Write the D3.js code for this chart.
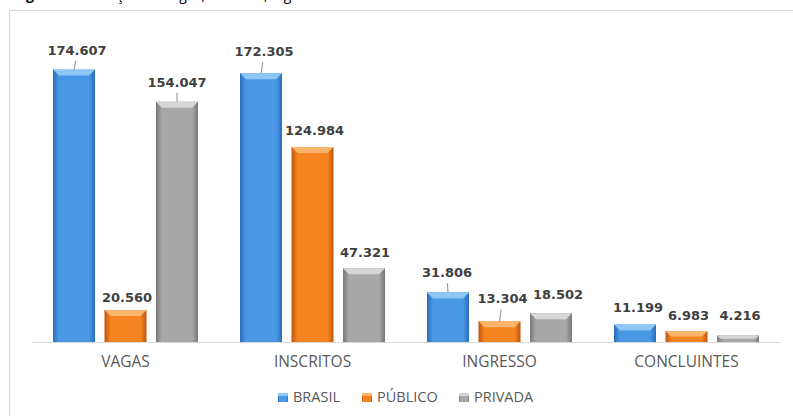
<!DOCTYPE html>
<html>
<head>
<meta charset="utf-8">
<script src="https://cdn.jsdelivr.net/npm/d3@7"></script>
<style>
  html, body { margin: 0; padding: 0; background: #fff; }
  svg { display: block; }
</style>
</head>
<body>
<div id="chart"></div>
<script>
  "use strict";

  // chart data
  var categories = ["VAGAS", "INSCRITOS", "INGRESSO", "CONCLUINTES"];
  var seriesNames = ["BRASIL", "PÚBLICO", "PRIVADA"];
  var brasil = [174607, 172305, 31806, 11199];
  var publico = [20560, 124984, 13304, 6983];
  var privada = [154047, 47321, 18502, 4216];
  var seriesValues = [brasil, publico, privada];

  // label nudges as placed in the original: [dx, gap above bar, leader line]
  var labelNudge = [
    [[3, 15, true], [1.5, 8, false], [0, 15, true]],
    [[3, 17, true], [2, 12, false], [1, 11, false]],
    [[-1, 15, true], [3, 18, true], [7, 14, false]],
    [[3, 13, false], [2, 11, false], [2, 15, false]]
  ];

  var width = 793, height = 416;
  var baseY = 342;

  var fmt = d3.formatLocale({ decimal: ",", thousands: ".", grouping: [3], currency: ["", ""] }).format(",d");

  var palette = {
    "BRASIL": { edge: "#2a6cbc", mid: "#4a98e4", top: "#8ec6f6" },
    "PÚBLICO": { edge: "#c0560e", mid: "#f3841f", top: "#fbb56c" },
    "PRIVADA": { edge: "#777777", mid: "#a8a8a8", top: "#d6d6d6" }
  };

  var svg = d3.select("#chart").append("svg")
    .attr("width", width)
    .attr("height", height);

  // gradients for the bevelled bars
  var defs = svg.append("defs");
  seriesNames.forEach(function (s, i) {
    var c = palette[s];
    var g = defs.append("linearGradient").attr("id", "grad" + i)
      .attr("x1", "0").attr("x2", "1").attr("y1", "0").attr("y2", "0");
    g.append("stop").attr("offset", "0%").attr("stop-color", c.edge);
    g.append("stop").attr("offset", "14%").attr("stop-color", c.mid);
    g.append("stop").attr("offset", "86%").attr("stop-color", c.mid);
    g.append("stop").attr("offset", "100%").attr("stop-color", c.edge);
  });

  // caption, cut off by the top of the picture as in the original
  svg.append("text")
    .attr("x", 14)
    .attr("y", 0)
    .style("font-family", "'Open Sans', sans-serif")
    .style("font-size", "14px")
    .attr("fill", "#000")
    .call(function (t) {
      t.append("tspan").style("font-weight", "bold").text("Figura 1 -");
      t.append("tspan").text(" Evolução de Vagas, Inscritos, Ingressos e Concluintes");
    });

  // frame
  svg.append("rect")
    .attr("x", 9.5).attr("y", 10.5)
    .attr("width", 800).attr("height", 420)
    .attr("fill", "#fff")
    .attr("stroke", "#d9d9d9")
    .attr("stroke-width", 1.2);

  var x = d3.scaleBand().domain(categories).range([32, 780]);
  var xs = d3.scaleBand().domain(seriesNames).range([21, 166]).paddingInner(0.184);
  var y = d3.scaleLinear().domain([0, 200000]).range([baseY, 30]);

  // baseline
  svg.append("line")
    .attr("x1", x.range()[0]).attr("x2", x.range()[1])
    .attr("y1", baseY + 0.5).attr("y2", baseY + 0.5)
    .attr("stroke", "#d9d9d9").attr("stroke-width", 1.2);

  var rows = [];
  categories.forEach(function (cat, ci) {
    seriesNames.forEach(function (s, si) {
      rows.push({ cat: cat, ci: ci, s: s, si: si, v: seriesValues[si][ci], nudge: labelNudge[ci][si] });
    });
  });

  var bars = svg.append("g").selectAll("g.bar")
    .data(rows)
    .enter().append("g").attr("class", "bar");

  bars.append("rect")
    .attr("x", function (d) { return x(d.cat) + xs(d.s); })
    .attr("y", function (d) { return y(d.v); })
    .attr("width", xs.bandwidth())
    .attr("height", function (d) { return baseY - y(d.v); })
    .attr("fill", function (d) { return "url(#grad" + d.si + ")"; });

  // bevel highlight on top
  bars.append("polygon")
    .attr("points", function (d) {
      var x0 = x(d.cat) + xs(d.s), x1 = x0 + xs.bandwidth(), t = y(d.v);
      var h = Math.min(6, (baseY - t) / 2), inset = Math.min(6, h);
      return [[x0, t], [x1, t], [x1 - inset, t + h], [x0 + inset, t + h]].join(" ");
    })
    .attr("fill", function (d) { return palette[d.s].top; });

  // leader lines
  bars.filter(function (d) { return d.nudge[2]; })
    .append("line")
    .attr("x1", function (d) { return x(d.cat) + xs(d.s) + xs.bandwidth() / 2; })
    .attr("y1", function (d) { return y(d.v); })
    .attr("x2", function (d) { return x(d.cat) + xs(d.s) + xs.bandwidth() / 2 + d.nudge[0] * 0.6; })
    .attr("y2", function (d) { return y(d.v) - (d.nudge[1] - 6); })
    .attr("stroke", "#8c8c8c").attr("stroke-width", 1);

  bars.append("text")
    .attr("x", function (d) { return x(d.cat) + xs(d.s) + xs.bandwidth() / 2 + d.nudge[0]; })
    .attr("y", function (d) { return y(d.v) - d.nudge[1]; })
    .attr("text-anchor", "middle")
    .style("font-family", "'DejaVu Sans', sans-serif")
    .style("font-weight", "bold")
    .style("font-size", "13px")
    .attr("fill", "#404040")
    .text(function (d) { return fmt(d.v); });

  // category axis
  var xAxis = d3.axisBottom(x).tickSize(0).tickPadding(0);
  var gx = svg.append("g").attr("transform", "translate(0," + baseY + ")").call(xAxis);
  gx.select(".domain").remove();
  gx.selectAll("text")
    .attr("y", 25)
    .attr("dy", 0)
    .style("font-family", "'Open Sans', sans-serif")
    .style("font-size", "15.5px")
    .attr("fill", "#595959");

  // legend
  var legendX = [278, 362, 459];
  var legend = svg.append("g").selectAll("g")
    .data(seriesNames)
    .enter().append("g")
    .attr("transform", function (d, i) { return "translate(" + legendX[i] + ",393)"; });

  legend.append("rect")
    .attr("width", 10).attr("height", 9)
    .attr("fill", function (d, i) { return "url(#grad" + i + ")"; });
  legend.append("rect")
    .attr("width", 10).attr("height", 3)
    .attr("fill", function (d) { return palette[d].top; });

  legend.append("text")
    .attr("x", 15).attr("y", 9)
    .style("font-family", "'Open Sans', sans-serif")
    .style("font-size", "14.5px")
    .attr("fill", "#595959")
    .text(function (d) { return d; });
</script>
</body>
</html>
